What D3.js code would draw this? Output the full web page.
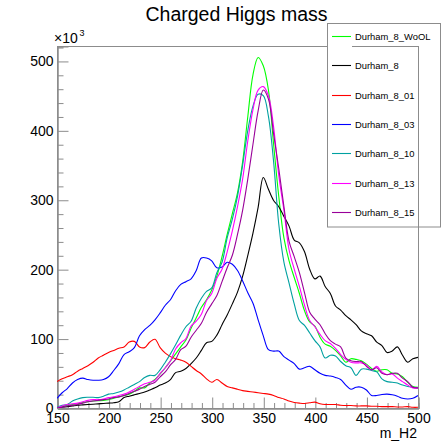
<!DOCTYPE html>
<html>
<head>
<meta charset="utf-8">
<script src="https://cdn.jsdelivr.net/npm/d3@7"></script>
<style>
  html, body { margin: 0; padding: 0; background: #fff; }
  svg { display: block; font-family: "Liberation Sans", Arial, Helvetica, sans-serif; }
</style>
</head>
<body>
<svg id="chart" width="448" height="443"></svg>
<script>
// ---- data (values in units of 10^3) ----
const mass = [150,155,160,165,170,175,180,185,190,195,
              200,205,210,215,220,225,230,235,240,245,
              250,255,260,265,270,275,280,285,290,295,
              300,305,310,315,320,325,330,335,340,345,
              350,355,360,365,370,375,380,385,390,395,
              400,405,410,415,420,425,430,435,440,445,
              450,455,460,465,470,475,480,485,490,495,500];

const durham8WoOL = [0,2,4,5,6,8,9,10,10.5,11,
  12,14,16,18,20,24,29,29,36,41,
  49,58,68,78,88,98,115,130,145,156,
  170,190,218,250,280,310,355,420,480,505,
  493,458,380,305,245,212,188,165,140,124,
  118,102,92,89,83,75,66,71,70,68,
  63,57,53,55,55,50,49,45,37,31,30];

const durham8 = [0,1,2,3,4,4.5,5,5.5,6,6.5,
  7,7.5,9,15,17,19,21,23,26,29,
  33,36,41,51,53,57,64,72,83,94,
  96,105,120,134,150,167,190,220,252,289,
  332,315,299,290,276,262,242,238,225,200,
  186,190,175,165,147,141,133,127,120,111,
  107,104,95,90,80,82,88,76,66,71,73];

const durham8_01 = [38,42,45,48,53,57,61,66,72,76,
  80,83,86,88,95,96,88,87,95,99,
  87,79,74,71,69,66,60,54,49,42,
  37,41,36,31,29,27,25,24,23,22,
  21,20,18,15,13,10,8,7,6.5,7.5,
  8.5,6,5,5,5,4,3.5,3.5,3,3,
  3,2.5,2.5,2,2,2,1.5,1.5,2,1,1];

const durham8_03 = [14,22,28,36,41,43,41,40,40,41,
  45,54,64,77,81,87,104,113,119,127,
  137,148,156,169,178,182,186,198,216,216,
  212,202,203,210,207,198,183,166,151,127,
  104,84,82,82,74,69,64,56,58,60,
  55,50,47,46,44,41,33,27,30,30,
  26,18,18,19.5,20,19,17,14,13,14,18];

const durham8_10 = [1,4,5,10,13,15,15.5,15.5,15,17,
  20,21,23,26,30,34,38,44,47,47,
  55,66,78,91,105,117,125,144,158,168,
  173,195,210,245,272,305,350,400,435,452,
  450,420,355,265,210,180,150,126,119,108,
  97,88,72,76,75,67,61,58,47,56,
  56,54,52,42,38,37,36,33,31,30,29];

const durham8_13 = [0,3,5,6,7,9,11,12,12,13,
  15,16,18,20,23,27,31,35,37,40,
  50,58,68,85,94,100,118,125,135,155,
  165,187,200,225,255,290,330,385,430,458,
  463,450,405,335,285,228,200,175,148,126,
  117,106,97,93,86,77,70,66,65,65,
  62,55,60,52,48,49,43,38,33,29,29];

const durham8_15 = [0,1,3,4,5,7,9,10,11,12,
  13,15,16,18,21,24,27,31,34,37,
  45,52,62,70,84,89,102,112,122,138,
  150,162,182,202,220,250,285,330,380,428,
  458,445,395,345,290,240,218,195,166,138,
  128,120,107,97,92,88,72,68,67,67,
  60,55,58,50,48,50,50,43,38,30,29];

const seriesNames  = ["Durham_8_WoOL","Durham_8","Durham_8_01","Durham_8_03","Durham_8_10","Durham_8_13","Durham_8_15"];
const seriesValues = [durham8WoOL, durham8, durham8_01, durham8_03, durham8_10, durham8_13, durham8_15];
const seriesColors = ["#00ff00","#000000","#ff0000","#0000ff","#00a0a0","#ff00ff","#990099"];

const xTicks = [150,200,250,300,350,400,450,500];
const yTicks = [0,100,200,300,400,500];
const title = "Charged Higgs mass";
const xTitle = "m_H2";

// ---- layout ----
const svg = d3.select("#chart");
const frame = {left: 57, right: 418, top: 46, bottom: 408};
const x = d3.scaleLinear().domain([150, 500]).range([frame.left, frame.right]);
const y = d3.scaleLinear().domain([0, 521.5]).range([frame.bottom, frame.top]);
const axisColor = "#8c8c8c";
const font = "\"Liberation Sans\", Arial, Helvetica, sans-serif";

// frame
svg.append("rect")
  .attr("x", frame.left + 0.5).attr("y", frame.top + 0.5)
  .attr("width", frame.right - frame.left).attr("height", frame.bottom - frame.top)
  .attr("fill", "none").attr("stroke", axisColor).attr("stroke-width", 1);

// x axis major
const gx = svg.append("g").attr("transform", `translate(0.5,${frame.bottom + 0.5})`)
  .call(d3.axisBottom(x).tickValues(xTicks).tickSize(-11).tickPadding(5).tickFormat(d3.format("d")));
// x minor
const xMinor = d3.range(150, 501, 10).filter(v => v % 50 !== 0);
svg.append("g").attr("transform", `translate(0.5,${frame.bottom + 0.5})`)
  .call(d3.axisBottom(x).tickValues(xMinor).tickSize(-5.5).tickFormat(""));

// y axis major
const gy = svg.append("g").attr("transform", `translate(${frame.left + 0.5},0.5)`)
  .call(d3.axisLeft(y).tickValues(yTicks).tickSize(-11).tickPadding(4).tickFormat(d3.format("d")));
const yMinor = d3.range(0, 521, 20).filter(v => v % 100 !== 0);
svg.append("g").attr("transform", `translate(${frame.left + 0.5},0.5)`)
  .call(d3.axisLeft(y).tickValues(yMinor).tickSize(-6).tickFormat(""));

svg.selectAll(".domain").attr("stroke", axisColor);
svg.selectAll(".tick line").attr("stroke", axisColor);
svg.selectAll(".tick text").attr("fill", "#000").style("font-size", "14px").style("font-family", font);

// curves
const clip = svg.append("clipPath").attr("id", "plotclip")
  .append("rect").attr("x", frame.left).attr("y", frame.top)
  .attr("width", frame.right - frame.left).attr("height", frame.bottom - frame.top);

const line = d3.line()
  .x((d, i) => x(mass[i]))
  .y(d => y(d))
  .curve(d3.curveCatmullRom.alpha(0.5));

const gc = svg.append("g").attr("clip-path", "url(#plotclip)");
seriesValues.forEach((vals, k) => {
  gc.append("path").datum(vals)
    .attr("d", line)
    .attr("fill", "none")
    .attr("stroke", seriesColors[k])
    .attr("stroke-width", 1.1)
    .attr("stroke-linejoin", "round");
});

// title
svg.append("text").attr("x", 236.5).attr("y", 21)
  .attr("text-anchor", "middle").style("font-size", "19.5px").style("font-family", font)
  .text(title);

// exponent label
svg.append("text").attr("x", 54).attr("y", 43)
  .style("font-size", "14px").style("font-family", font).text("\u00d710");
svg.append("text").attr("x", 79.5).attr("y", 36)
  .style("font-size", "9px").style("font-family", font).text("3");

// x title
svg.append("text").attr("x", 417).attr("y", 438)
  .attr("text-anchor", "end").style("font-size", "14px").style("font-family", font)
  .text(xTitle);

// legend
const leg = {x: 327.5, y: 23.5, w: 113, h: 203.5};
svg.append("rect").attr("x", leg.x + 0.5).attr("y", 44).attr("width", 24).attr("height", 4).attr("fill", "#fff");
svg.append("rect").attr("x", leg.x).attr("y", leg.y).attr("width", leg.w).attr("height", leg.h)
  .attr("fill", "none").attr("stroke", axisColor).attr("stroke-width", 1);
const legY = d3.scaleLinear().domain([0, 6]).range([36, 212]);
seriesNames.forEach((name, k) => {
  const yy = Math.round(legY(k)) + 0.5;
  svg.append("line").attr("x1", 332).attr("x2", 351).attr("y1", yy).attr("y2", yy)
    .attr("stroke", seriesColors[k]).attr("stroke-width", 1.1);
  svg.append("text").attr("x", 355).attr("y", yy + 3.3)
    .style("font-size", "9.4px").style("font-family", font).text(name);
});
</script>
</body>
</html>
